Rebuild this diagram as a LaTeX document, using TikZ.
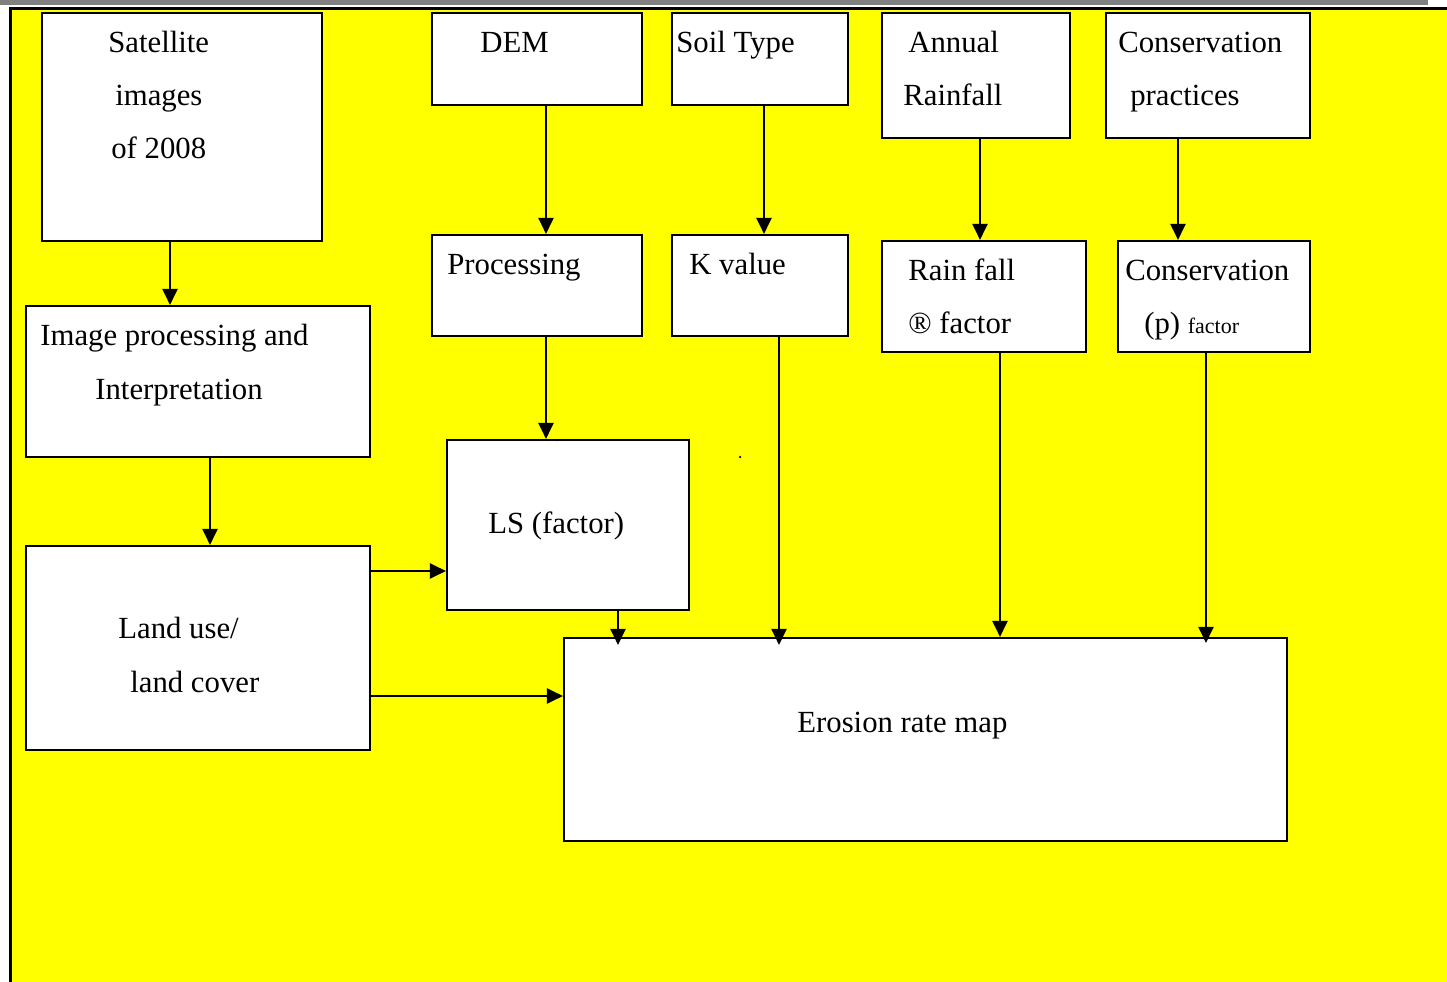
\documentclass[tikz,border=0pt]{standalone}
\usepackage{fontspec}
\setmainfont{Liberation Serif}
\usetikzlibrary{arrows.meta,fit}
\definecolor{bgyellow}{HTML}{FFFF00}
\definecolor{bargrey}{HTML}{808080}
\begin{document}
\begin{tikzpicture}[x=0.02cm,y=-0.02cm,
  box/.style={draw=black,fill=white,line width=1.2pt,inner sep=0pt},
  lbl/.style={anchor=base west,inner sep=0pt,font=\fontsize{17.5}{21}\selectfont},
  arr/.style={line width=1.2pt,-{Triangle[length=0.32cm,width=0.3cm]}}]
\useasboundingbox (0,0) rectangle (1447,982);
% background frame
\fill[white] (0,0) rectangle (1447,982);
\fill[bargrey] (0,0) rectangle (1428,5.5);
\fill[bgyellow] (11,9) rectangle (1447,982);
\draw[line width=1.5pt] (10.5,982) -- (10.5,8.5) -- (1447,8.5);
% boxes
\coordinate (c1) at (42,13);   \coordinate (c2) at (322,241);
\node[box,fit=(c1)(c2)] (sat) {};
\coordinate (c3) at (432,13);  \coordinate (c4) at (642,105);
\node[box,fit=(c3)(c4)] (dem) {};
\coordinate (c5) at (672,13);  \coordinate (c6) at (848,105);
\node[box,fit=(c5)(c6)] (soil) {};
\coordinate (c7) at (882,13);  \coordinate (c8) at (1070,138);
\node[box,fit=(c7)(c8)] (rain) {};
\coordinate (c9) at (1106,13); \coordinate (c10) at (1310,138);
\node[box,fit=(c9)(c10)] (cons) {};
\coordinate (c11) at (432,235); \coordinate (c12) at (642,336);
\node[box,fit=(c11)(c12)] (proc) {};
\coordinate (c13) at (672,235); \coordinate (c14) at (848,336);
\node[box,fit=(c13)(c14)] (kval) {};
\coordinate (c15) at (882,241); \coordinate (c16) at (1086,352);
\node[box,fit=(c15)(c16)] (rfac) {};
\coordinate (c17) at (1118,241); \coordinate (c18) at (1310,352);
\node[box,fit=(c17)(c18)] (pfac) {};
\coordinate (c19) at (26,306);  \coordinate (c20) at (370,457);
\node[box,fit=(c19)(c20)] (imp) {};
\coordinate (c21) at (447,440); \coordinate (c22) at (689,610);
\node[box,fit=(c21)(c22)] (ls) {};
\coordinate (c23) at (26,546);  \coordinate (c24) at (370,750);
\node[box,fit=(c23)(c24)] (land) {};
\coordinate (c25) at (564,638); \coordinate (c26) at (1287,841);
\node[box,fit=(c25)(c26)] (ero) {};
% texts
\node[lbl] (t1) at (108,53) {Satellite};
\node[lbl] (t2) at (115,106) {images};
\node[lbl] (t3) at (111,159) {of 2008};
\node[lbl] (t4) at (480,53) {DEM};
\node[lbl] (t5) at (676,53) {Soil Type};
\node[lbl] (t6) at (908,53) {Annual};
\node[lbl] (t7) at (903,106) {Rainfall};
\node[lbl] (t8) at (1118,53) {Conservation};
\node[lbl] (t9) at (1130,106) {practices};
\node[lbl] (t10) at (447,275) {Processing};
\node[lbl] (t11) at (689,275) {K value};
\node[lbl] (t12) at (908,281) {Rain fall};
\node[lbl] (t13) at (908,334) {® factor};
\node[lbl] (t14) at (1125,281) {Conservation};
\node[lbl] (t15) at (1144,334) {(p) {\fontsize{12.5}{15}\selectfont factor}};
\node[lbl] (t16) at (40,346) {Image processing and};
\node[lbl] (t17) at (95,400) {Interpretation};
\node[lbl] (t18) at (488,534) {LS (factor)};
\node[lbl] (t19) at (118,639) {Land use/};
\node[lbl] (t20) at (130,693) {land cover};
\node[lbl] (t21) at (797,732) {Erosion rate map};
\fill (740,457) circle (0.025cm);
% connectors
\draw[arr] (sat.south -| 170,0) -- (imp.north -| 170,0);
\draw[arr] (imp.south -| 210,0) -- (land.north -| 210,0);
\draw[arr] (dem.south -| 546,0) -- (proc.north -| 546,0);
\draw[arr] (soil.south -| 764,0) -- (kval.north -| 764,0);
\draw[arr] (rain.south -| 980,0) -- (rfac.north -| 980,0);
\draw[arr] (cons.south -| 1178,0) -- (pfac.north -| 1178,0);
\draw[arr] (proc.south -| 546,0) -- (ls.north -| 546,0);
\draw[arr] (land.east |- 0,571) -- (ls.west |- 0,571);
\draw[arr] (land.east |- 0,696) -- (ero.west |- 0,696);
\draw[arr] (ls.south -| 618,0) -- ([yshift=-0.16cm]ero.north -| 618,0);
\draw[arr] (kval.south -| 779,0) -- ([yshift=-0.16cm]ero.north -| 779,0);
\draw[arr] (rfac.south -| 1000,0) -- (ero.north -| 1000,0);
\draw[arr] (pfac.south -| 1206,0) -- ([yshift=-0.12cm]ero.north -| 1206,0);
\end{tikzpicture}
\end{document}
